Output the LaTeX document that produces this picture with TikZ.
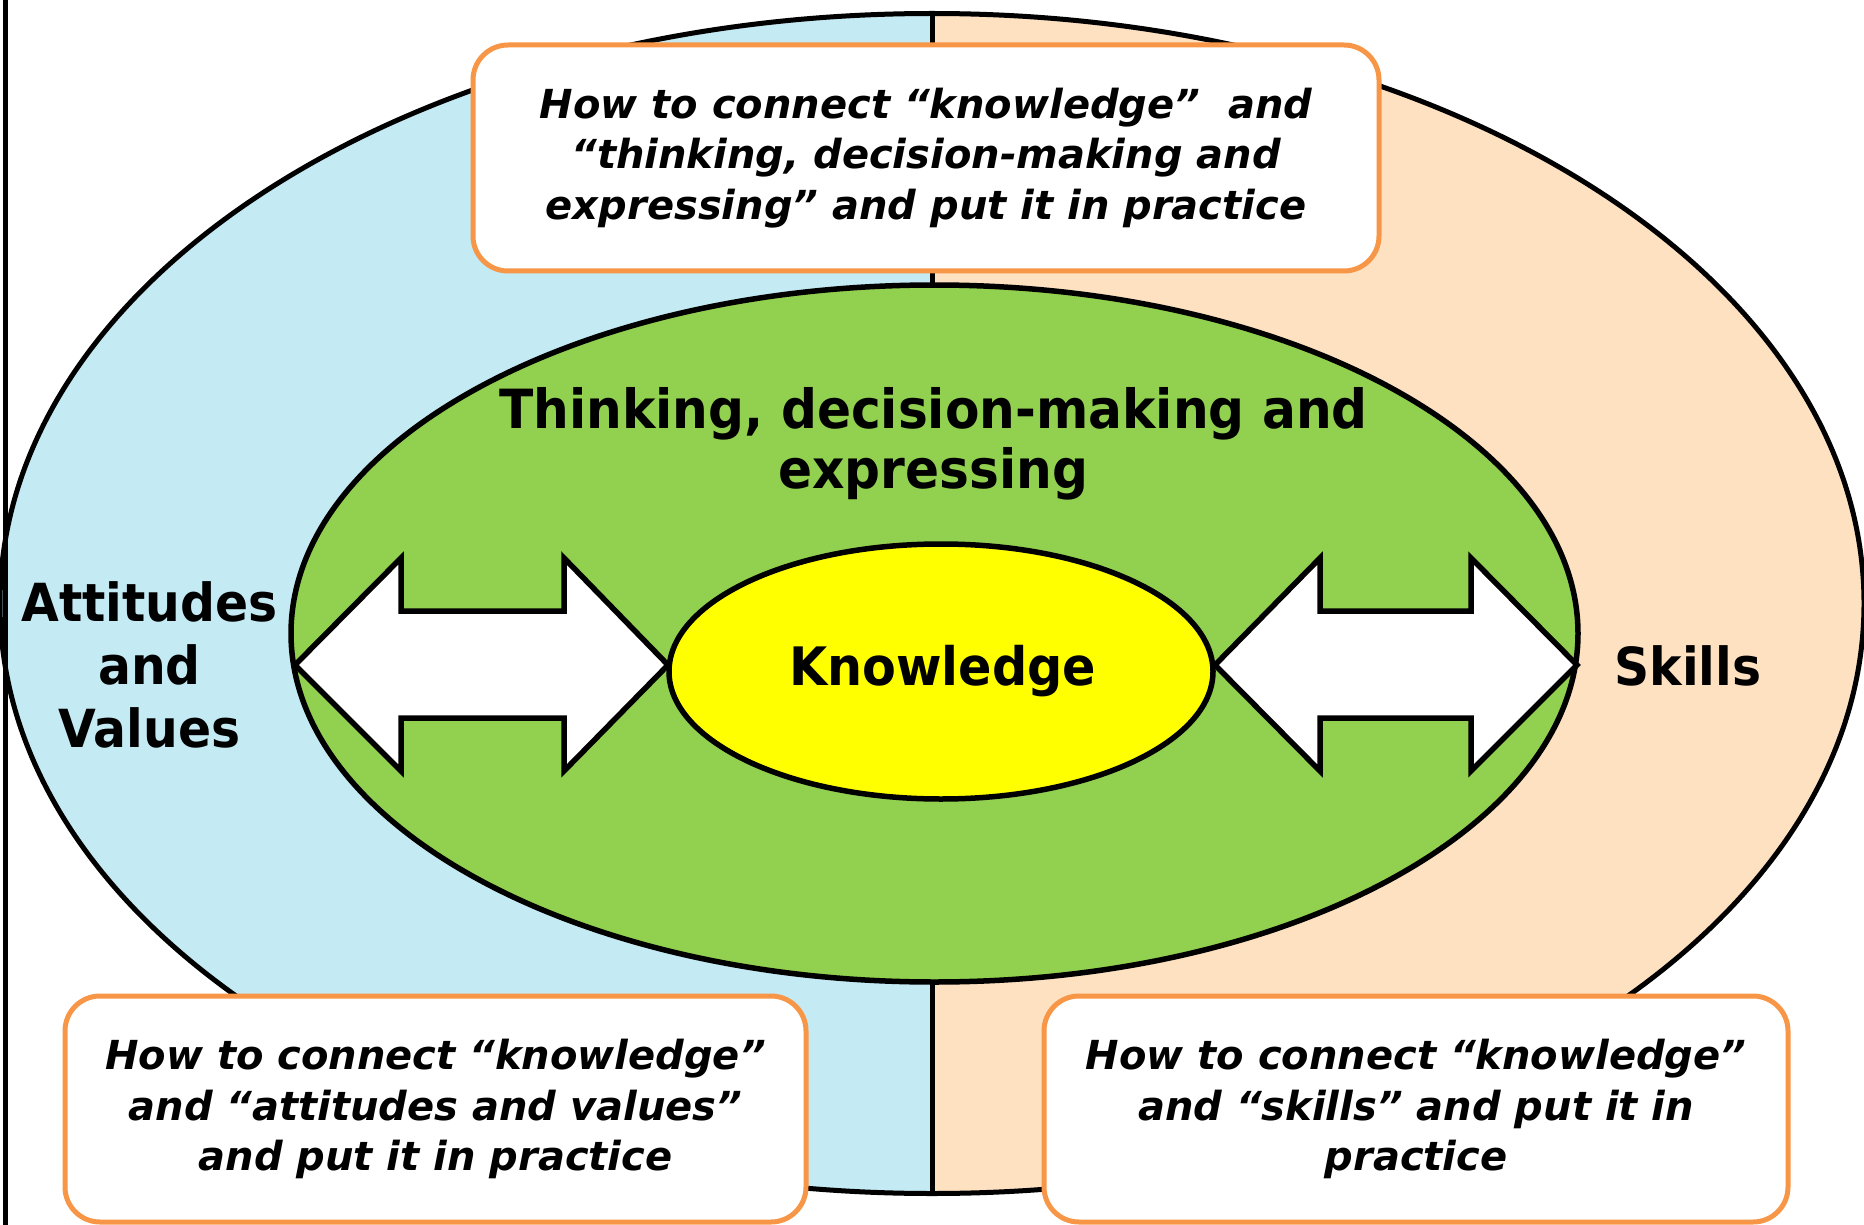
\documentclass[tikz,border=0pt]{standalone}
\usepackage{fontspec}
\usetikzlibrary{shapes.geometric}
\newfontfamily\headfont{DejaVu Sans}[FakeStretch=0.93]
\newfontfamily\boxfont{DejaVu Sans}
\definecolor{leftblue}{RGB}{196,234,244}
\definecolor{rightpeach}{RGB}{253,225,193}
\definecolor{thinkgreen}{HTML}{92D050}
\definecolor{knowyellow}{HTML}{FFFF00}
\definecolor{boxorange}{HTML}{F79646}
\tikzset{
  ringline/.style={draw=black, line width=5pt},
  ellnode/.style={ellipse, inner sep=0pt, outer sep=0pt},
  dblarrow/.style={draw=black, fill=white, line width=5.5pt, line join=miter},
  headtext/.style={font=\headfont\bfseries, text=black, align=center, inner sep=0pt},
  infobox/.style={draw=boxorange, fill=white, line width=5pt, rounded corners=35pt,
    font=\boxfont\bfseries\itshape\fontsize{40}{50.5}\selectfont, align=center, inner sep=0pt}
}
\begin{document}
\begin{tikzpicture}[x=1pt, y=-1pt]
\useasboundingbox (0,0) rectangle (1864,1225);
% outer ellipse halves
\node[ellnode, minimum width=1864pt, minimum height=1180pt] (outer) at (932,603.5) {};
\begin{scope}
  \clip (0,0) rectangle (932,1225);
  \fill[leftblue] (932,603.5) ellipse [x radius=932, y radius=590];
\end{scope}
\begin{scope}
  \clip (932,0) rectangle (1864,1225);
  \fill[rightpeach] (932,603.5) ellipse [x radius=932, y radius=590];
\end{scope}
\draw[ringline] (932,603.5) ellipse [x radius=932, y radius=590];
\draw[line width=5pt] (outer.north) -- (outer.south);
% left border line
\coordinate (bordtop) at (5.5,0);
\coordinate (bordbot) at (5.5,1225);
\draw[line width=5.5pt] (bordtop) -- (bordbot);
% green ellipse
\node[ellnode, draw=black, line width=5.5pt, fill=thinkgreen, minimum width=1287pt, minimum height=697pt] (think) at (934.5,633.5) {};
% yellow ellipse
\node[ellnode, draw=black, line width=5.5pt, fill=knowyellow, minimum width=544pt, minimum height=255pt] (know) at (941,671.5) {};
% double arrows
\draw[dblarrow] (295,665) -- (401,558) -- (401,611) -- (564,611) -- (564,558) -- (668,665)
  -- (564,771) -- (564,718) -- (401,718) -- (401,771) -- cycle;
\draw[dblarrow] (1215,665) -- (1320,558) -- (1320,611) -- (1471,611) -- (1471,558) -- (1577,665)
  -- (1471,771) -- (1471,718) -- (1320,718) -- (1320,771) -- cycle;
% texts
\node[headtext, font=\headfont\bfseries\fontsize{54}{60}\selectfont] (thinktxt) at (933.5,443.8)
  {Thinking, decision-making and\\expressing};
\node[headtext, font=\headfont\bfseries\fontsize{53}{63}\selectfont, anchor=base] (knowtxt) at (942.5,685) {Knowledge};
\node[headtext, font=\headfont\bfseries\fontsize{52.5}{63}\selectfont, anchor=base] (skills) at (1688,685) {Skills};
\node[headtext, font=\headfont\bfseries\fontsize{52.5}{63}\selectfont] (attitudes) at (149.5,665.4)
  {Attitudes\\and\\Values};
% boxes
\node[infobox, minimum width=906pt, minimum height=226pt] (topbox) at (926,158)
  {How to connect “knowledge”~ and\\“thinking, decision-making and\\expressing” and put it in practice};
\node[infobox, minimum width=741pt, minimum height=226pt] (leftbox) at (435.5,1109)
  {How to connect “knowledge”\\and “attitudes and values”\\and put it in practice};
\node[infobox, minimum width=744pt, minimum height=226pt] (rightbox) at (1416,1109)
  {How to connect “knowledge”\\and “skills” and put it in\\practice};
\end{tikzpicture}
\end{document}
